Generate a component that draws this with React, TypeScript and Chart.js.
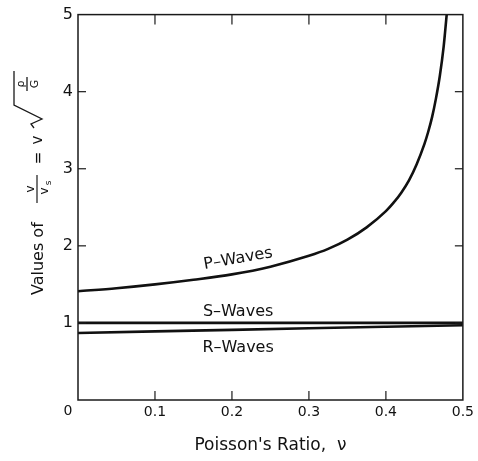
import React, { useEffect, useRef } from "react";
import { Chart, registerables } from "chart.js";

Chart.register(...registerables);

// Poisson's ratio values and wave-velocity ratios
const P_NU = [0, 0.05, 0.1, 0.15, 0.2, 0.25, 0.3, 0.325, 0.35, 0.375, 0.4, 0.41, 0.42, 0.43, 0.44, 0.45, 0.455, 0.46, 0.465, 0.47, 0.475, 0.479];
const P_VAL = [1.41, 1.45, 1.5, 1.56, 1.63, 1.73, 1.87, 1.96, 2.08, 2.24, 2.45, 2.56, 2.69, 2.85, 3.06, 3.32, 3.48, 3.67, 3.91, 4.2, 4.58, 5.0];
const S_NU = [0, 0.5];
const S_VAL = [1.0, 1.0];
const R_NU = [0, 0.1, 0.2, 0.3, 0.4, 0.5];
const R_VAL = [0.87, 0.89, 0.91, 0.93, 0.95, 0.97];

const X_TICKS = [0, 0.1, 0.2, 0.3, 0.4, 0.5];
const X_LABELS = ["0", "0.1", "0.2", "0.3", "0.4", "0.5"];
const Y_TICKS = [0, 1, 2, 3, 4, 5];
const Y_LABELS = ["0", "1", "2", "3", "4", "5"];

const X_TITLE = "Poisson's Ratio,  \u03bd";
const CURVE_LABELS = ["P\u2013Waves", "S\u2013Waves", "R\u2013Waves"];

const FONT = "DejaVu Sans";
const INK = "#111";

const toPts = (xs: number[], ys: number[]) => xs.map((x, i) => ({ x, y: ys[i] }));

const decorPlugin = {
  id: "decor",
  afterDraw(chart: any) {
    const { ctx, chartArea: a } = chart;
    const xs = chart.scales.x;
    const ys = chart.scales.y;
    ctx.save();
    ctx.strokeStyle = "#1a1a1a";
    ctx.lineWidth = 1.5;
    ctx.strokeRect(a.left, a.top, a.right - a.left, a.bottom - a.top);

    const seg = (x1: number, y1: number, x2: number, y2: number) => {
      ctx.beginPath();
      ctx.moveTo(x1, y1);
      ctx.lineTo(x2, y2);
      ctx.stroke();
    };
    ctx.lineWidth = 1.2;
    X_TICKS.forEach((v, i) => {
      if (i === 0 || i === X_TICKS.length - 1) return;
      const px = xs.getPixelForValue(v);
      seg(px, a.bottom, px, a.bottom - 9);
      seg(px, a.top, px, a.top + 10);
    });
    Y_TICKS.forEach((v, i) => {
      if (i === 0 || i === Y_TICKS.length - 1) return;
      const py = ys.getPixelForValue(v);
      seg(a.left, py, a.left + 8, py);
      seg(a.right, py, a.right - 8, py);
    });

    // origin label
    ctx.fillStyle = INK;
    ctx.font = `14px "${FONT}"`;
    ctx.textAlign = "center";
    ctx.textBaseline = "middle";
    ctx.fillText(X_LABELS[0], xs.getPixelForValue(X_TICKS[0]) - 10, a.bottom + 11);

    // curve labels
    ctx.font = `16px "${FONT}"`;
    ctx.save();
    ctx.translate(xs.getPixelForValue(0.208), ys.getPixelForValue(1.83));
    ctx.rotate((-10 * Math.PI) / 180);
    ctx.fillText(CURVE_LABELS[0], 0, 0);
    ctx.restore();
    ctx.fillText(CURVE_LABELS[1], xs.getPixelForValue(0.208), ys.getPixelForValue(1.15));
    ctx.fillText(CURVE_LABELS[2], xs.getPixelForValue(0.208), ys.getPixelForValue(0.68));

    // y-axis title: Values of v/v_s = v sqrt(rho/G)
    ctx.save();
    ctx.translate(43, 295);
    ctx.rotate(-Math.PI / 2);
    ctx.textAlign = "left";
    ctx.textBaseline = "alphabetic";
    ctx.font = `16px "${FONT}"`;
    ctx.fillText("Values of", 0, 0);
    // fraction v / v_s
    ctx.lineWidth = 1.2;
    seg(92, -6, 120, -6);
    ctx.font = `12px "${FONT}"`;
    ctx.textAlign = "center";
    ctx.fillText("v", 106, -9);
    ctx.fillText("v", 104, 5);
    ctx.font = `9px "${FONT}"`;
    ctx.fillText("s", 112, 8);
    // = v
    ctx.font = `15px "${FONT}"`;
    ctx.fillText("=", 137, 0);
    ctx.fillText("v", 155, -1);
    // radical
    ctx.lineWidth = 1.3;
    ctx.beginPath();
    ctx.moveTo(167, -9);
    ctx.lineTo(171, -12);
    ctx.lineTo(176, -1);
    ctx.lineTo(190, -29);
    ctx.lineTo(224, -29);
    ctx.stroke();
    ctx.font = `11px "${FONT}"`;
    ctx.fillText("\u03c1", 211, -19);
    seg(204, -16, 218, -16);
    ctx.fillText("G", 211, -5);
    ctx.restore();

    ctx.restore();
  },
};

export default function App() {
  const ref = useRef<HTMLCanvasElement | null>(null);
  useEffect(() => {
    if (!ref.current) return;
    const lineDs = (label: string, data: any[]) => ({
      label,
      data,
      borderColor: INK,
      borderWidth: 2.6,
      pointRadius: 0,
      fill: false,
      cubicInterpolationMode: "monotone" as const,
    });
    const chart = new Chart(ref.current, {
      type: "line",
      data: {
        datasets: [
          lineDs("P-Waves", toPts(P_NU, P_VAL)),
          lineDs("S-Waves", toPts(S_NU, S_VAL)),
          lineDs("R-Waves", toPts(R_NU, R_VAL)),
        ],
      },
      options: {
        animation: false,
        responsive: false,
        devicePixelRatio: 1,
        layout: { padding: { left: 0, top: 11, right: 13, bottom: 0 } },
        plugins: { legend: { display: false }, tooltip: { enabled: false } },
        scales: {
          x: {
            type: "linear",
            min: 0,
            max: 0.5,
            afterBuildTicks: (s: any) => {
              s.ticks = X_TICKS.map((value) => ({ value }));
            },
            afterFit: (s: any) => {
              s.height = 61;
            },
            grid: { display: false, drawTicks: false },
            border: { display: false },
            ticks: {
              color: INK,
              font: { family: FONT, size: 14 },
              padding: 4,
              maxRotation: 0,
              autoSkip: false,
              callback: (v: any) => {
                const i = X_TICKS.findIndex((t) => Math.abs(t - v) < 1e-9);
                return i <= 0 ? "" : X_LABELS[i];
              },
            },
            title: {
              display: true,
              text: X_TITLE,
              color: INK,
              font: { family: FONT, size: 17 },
              padding: { top: 0, bottom: 5 },
            },
          },
          y: {
            type: "linear",
            min: 0,
            max: 5,
            afterBuildTicks: (s: any) => {
              s.ticks = Y_TICKS.map((value) => ({ value }));
            },
            afterFit: (s: any) => {
              s.width = 78;
            },
            grid: { display: false, drawTicks: false },
            border: { display: false },
            ticks: {
              color: INK,
              font: { family: FONT, size: 16 },
              padding: 5,
              autoSkip: false,
              callback: (v: any) => {
                const i = Y_TICKS.findIndex((t) => Math.abs(t - v) < 1e-9);
                return i <= 0 ? "" : Y_LABELS[i];
              },
            },
          },
        },
      },
      plugins: [decorPlugin],
    });
    return () => chart.destroy();
  }, []);
  return (
    <div style={{ position: "absolute", left: 0, top: 0, width: 478, height: 461, background: "#fff" }}>
      <canvas ref={ref} width={478} height={461} style={{ display: "block" }} />
    </div>
  );
}
